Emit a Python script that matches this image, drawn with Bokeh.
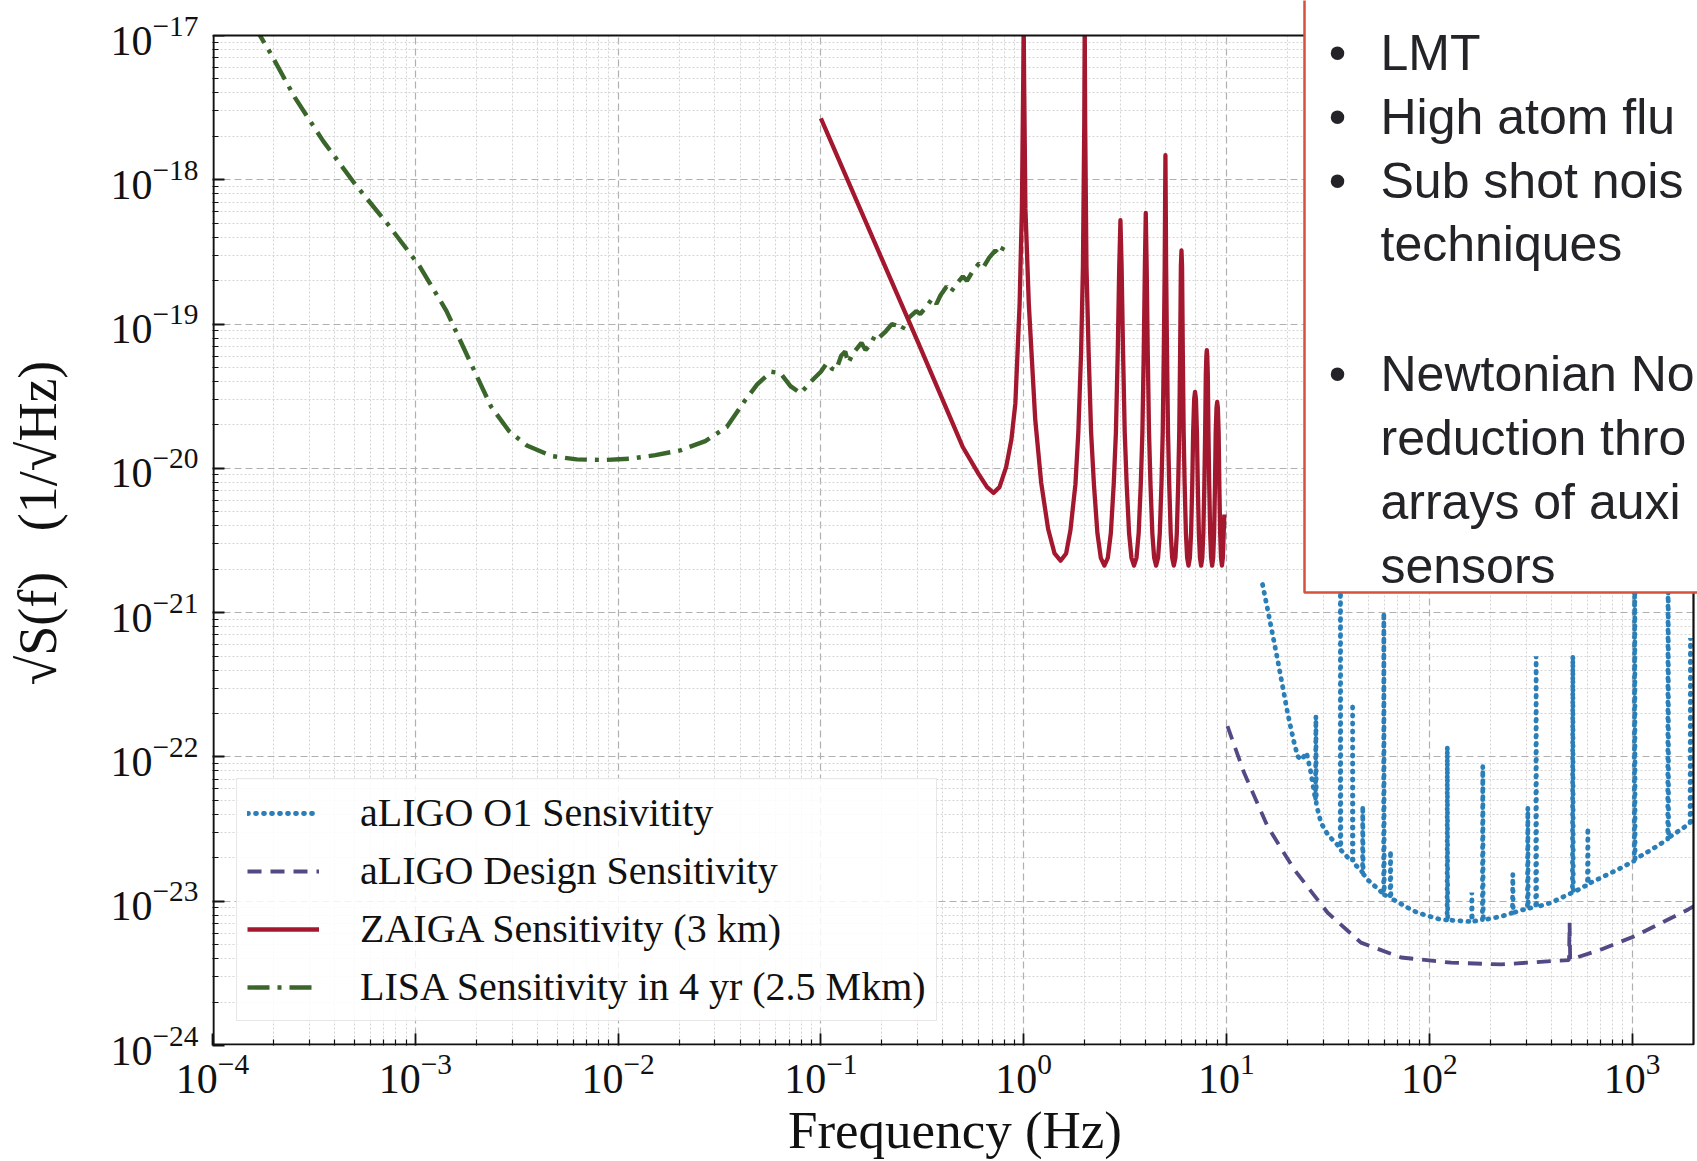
import numpy as np
from bokeh.plotting import figure
from bokeh.models import (FixedTicker, LogTickFormatter, Legend, LegendItem, Label,
                          BoxAnnotation, Range1d)
from bokeh.embed import file_html
from bokeh.resources import INLINE

# ---------------- data (log10 units) ----------------
lisa_log_f = [-3.80, -3.718, -3.595, -3.454, -3.296, -3.137, -2.979, -2.846, -2.735, -2.626,
              -2.538, -2.45, -2.327, -2.204, -2.063, -1.939, -1.816, -1.693, -1.570, -1.464,
              -1.376, -1.314, -1.245, -1.20, -1.15, -1.10, -1.05, -1.00, -0.97, -0.945,
              -0.925, -0.90, -0.88, -0.865, -0.84, -0.80, -0.78, -0.755, -0.73, -0.71,
              -0.68, -0.65, -0.625, -0.60, -0.57, -0.53, -0.51, -0.48, -0.45, -0.43,
              -0.41, -0.38, -0.36, -0.33, -0.30, -0.28, -0.25, -0.22, -0.20, -0.17,
              -0.14, -0.12, -0.09]
lisa_log_h = [-16.92, -17.113, -17.427, -17.732, -18.032, -18.305, -18.598, -18.91, -19.245, -19.573,
              -19.741, -19.841, -19.915, -19.938, -19.942, -19.933, -19.908, -19.875, -19.811, -19.714,
              -19.533, -19.418, -19.33, -19.34, -19.43, -19.48, -19.40, -19.33, -19.27, -19.31,
              -19.32, -19.22, -19.19, -19.27, -19.20, -19.13, -19.18, -19.14, -19.07, -19.09,
              -19.05, -19.00, -19.01, -19.04, -18.96, -18.91, -18.93, -18.88, -18.82, -18.86,
              -18.80, -18.74, -18.78, -18.72, -18.67, -18.70, -18.63, -18.58, -18.61, -18.54,
              -18.49, -18.52, -18.44]

zaiga_f_hz = [0.10, 0.20, 0.30, 0.40, 0.50, 0.60, 0.66, 0.71, 0.76, 0.82, 0.87, 0.91, 0.955, 0.98, 0.995,
              1.00, 1.005, 1.02, 1.06, 1.14, 1.22, 1.32, 1.42, 1.52, 1.62, 1.70, 1.80, 1.86, 1.92, 1.96, 1.99,
              2.00, 2.01, 2.04, 2.09, 2.15, 2.22, 2.31, 2.40, 2.50, 2.60, 2.69, 2.78, 2.85, 2.91, 2.96,
              3.00, 3.04, 3.09, 3.15, 3.22, 3.31, 3.40, 3.50, 3.60, 3.69, 3.78, 3.85, 3.91, 3.96,
              4.00, 4.04, 4.09, 4.15, 4.22, 4.31, 4.40, 4.50, 4.60, 4.69, 4.78, 4.85, 4.91, 4.96, 4.985,
              5.00, 5.015, 5.04, 5.09, 5.15, 5.22, 5.31, 5.40, 5.50, 5.60, 5.69, 5.78, 5.85, 5.91, 5.96,
              6.00, 6.04, 6.09, 6.15, 6.22, 6.31, 6.40, 6.50, 6.60, 6.69, 6.78, 6.85, 6.93,
              7.00, 7.07, 7.15, 7.22, 7.31, 7.40, 7.50, 7.60, 7.69, 7.78, 7.85, 7.91, 7.96,
              8.00, 8.04, 8.09, 8.15, 8.22, 8.31, 8.40, 8.50, 8.60, 8.69, 8.78, 8.85, 8.93,
              9.00, 9.07, 9.15, 9.22, 9.31, 9.40, 9.50, 9.60, 9.69, 9.76]
zaiga_log_h = [-17.575, -18.55, -19.12, -19.53, -19.85, -20.04, -20.13, -20.17, -20.13, -19.99, -19.80, -19.55, -18.86, -18.20, -17.30,
               -16.9, -17.30, -18.20, -18.86, -19.66, -20.10, -20.42, -20.59, -20.64, -20.59, -20.43, -20.11, -19.75, -19.19, -18.60, -17.60,
               -16.9, -17.60, -18.60, -19.19, -19.75, -20.11, -20.45, -20.62, -20.674, -20.62, -20.45, -20.11, -19.75, -19.19, -18.60,
               -18.28, -18.60, -19.19, -19.75, -20.11, -20.45, -20.62, -20.674, -20.62, -20.45, -20.11, -19.75, -19.19, -18.60,
               -18.23, -18.60, -19.19, -19.75, -20.11, -20.45, -20.62, -20.674, -20.62, -20.45, -20.11, -19.75, -19.19, -18.60, -18.10,
               -17.83, -18.10, -18.60, -19.19, -19.75, -20.11, -20.45, -20.62, -20.674, -20.62, -20.45, -20.11, -19.75, -19.19, -18.60,
               -18.49, -18.60, -19.19, -19.75, -20.11, -20.45, -20.62, -20.674, -20.62, -20.45, -20.11, -19.75, -19.52,
               -19.47, -19.52, -19.75, -20.11, -20.45, -20.62, -20.674, -20.62, -20.45, -20.11, -19.75, -19.35, -19.22,
               -19.18, -19.22, -19.35, -19.75, -20.11, -20.45, -20.62, -20.674, -20.62, -20.45, -20.11, -19.75, -19.58,
               -19.54, -19.58, -19.75, -20.11, -20.45, -20.62, -20.674, -20.62, -20.45, -20.32]

design_log_f = [1.005, 1.087, 1.202, 1.334, 1.499, 1.663, 1.861, 2.108, 2.355, 2.601,
                2.689, 2.692, 2.695, 2.848, 3.013, 3.277, 3.31]
design_log_h = [-21.787, -22.11, -22.48, -22.78, -23.08, -23.287, -23.39, -23.426, -23.438, -23.415,
                -23.408, -23.149, -23.405, -23.334, -23.242, -23.057, -23.03]

o1_log_f = [1.178, 1.203, 1.252, 1.301, 1.330, 1.351, 1.370, 1.395, 1.415, 1.439,
            1.441, 1.443, 1.466, 1.50, 1.561, 1.562, 1.564, 1.60, 1.621, 1.622,
            1.624, 1.671, 1.672, 1.674, 1.696, 1.775, 1.776, 1.778, 1.795, 1.807,
            1.809, 1.811, 1.90, 1.943, 2.058, 2.088, 2.089, 2.091, 2.19, 2.209,
            2.21, 2.212, 2.262, 2.264, 2.266, 2.355, 2.410, 2.412, 2.414, 2.484,
            2.486, 2.488, 2.525, 2.527, 2.529, 2.601, 2.706, 2.708, 2.710, 2.765,
            2.780, 2.782, 2.784, 2.931, 3.011, 3.013, 3.015, 3.095, 3.176, 3.178,
            3.180, 3.286, 3.288, 3.290, 3.31]
o1_log_h = [-20.805, -20.978, -21.325, -21.692, -21.88, -21.995, -22.02, -21.97, -22.10, -22.30,
            -21.718, -22.33, -22.456, -22.54, -22.63, -20.3, -22.645, -22.70, -22.72, -21.63,
            -22.73, -22.80, -22.34, -22.81, -22.851, -22.95, -21.0, -22.955, -22.967, -22.975,
            -22.65, -22.98, -23.05, -23.08, -23.128, -23.13, -21.93, -23.13, -23.14, -23.14,
            -22.94, -23.14, -23.13, -22.064, -23.13, -23.105, -23.08, -22.814, -23.08, -23.05,
            -22.352, -23.05, -23.04, -21.302, -23.04, -23.01, -22.94, -21.302, -22.94, -22.897,
            -22.89, -22.49, -22.88, -22.78, -22.72, -20.3, -22.71, -22.643, -22.57, -20.3,
            -22.56, -22.46, -21.175, -22.455, -22.44]

legend_labels = ["aLIGO O1 Sensivitity", "aLIGO Design Sensitivity",
                 "ZAIGA Sensitivity (3 km)", "LISA Sensitivity in 4 yr (2.5 Mkm)"]
x_tick_exponents = [-4, -3, -2, -1, 0, 1, 2, 3]
y_tick_exponents = [-24, -23, -22, -21, -20, -19, -18, -17]
x_limits_log = (-4.0, 3.303)
y_limits_log = (-24.0, -17.0)
note_lines = ["LMT", "High atom flu", "Sub shot nois", "techniques", "",
              "Newtonian No", "reduction thro", "arrays of auxi", "sensors"]
note_bullets = [True, True, True, False, False, True, False, False, False]

assert len(lisa_log_f) == len(lisa_log_h)
assert len(zaiga_f_hz) == len(zaiga_log_h)
assert len(design_log_f) == len(design_log_h)
assert len(o1_log_f) == len(o1_log_h)

# ---------------- layout ----------------
# The plotting frame is stretched to the top/right edge of the canvas so that the
# overlaid note box (which in the reference spills over the axes frame) is not clipped.
W, H = 1697, 1161
LEFT, BOTTOM = 212, 116
AX_TOP, AX_RIGHT = 35, 1693          # pixel position of the axes box top / right edge
X_DEC = (AX_RIGHT - LEFT) / (x_limits_log[1] - x_limits_log[0])
Y_DEC = (H - BOTTOM - AX_TOP) / (y_limits_log[1] - y_limits_log[0])
x_end = 10 ** (x_limits_log[0] + (W - LEFT) / X_DEC)
y_end = 10 ** (y_limits_log[0] + (H - BOTTOM) / Y_DEC)


def xpx(X):
    return 10 ** (x_limits_log[0] + (X - LEFT) / X_DEC)


def ypx(Y):
    return 10 ** (y_limits_log[1] - (Y - AX_TOP) / Y_DEC)


p = figure(width=W, height=H, x_axis_type="log", y_axis_type="log",
           x_range=Range1d(10 ** x_limits_log[0], x_end),
           y_range=Range1d(10 ** y_limits_log[0], y_end),
           output_backend="svg", toolbar_location=None,
           min_border_left=LEFT, min_border_right=0,
           min_border_top=0, min_border_bottom=BOTTOM)
p.background_fill_color = "white"
p.border_fill_color = "white"
p.outline_line_color = None

xt = FixedTicker(ticks=[10.0 ** e for e in x_tick_exponents],
                 minor_ticks=[k * 10.0 ** e for e in range(-4, 4) for k in range(2, 10)
                              if k * 10.0 ** e < 1990])
yt = FixedTicker(ticks=[10.0 ** e for e in y_tick_exponents],
                 minor_ticks=[k * 10.0 ** e for e in range(-24, -17) for k in range(2, 10)])
p.xaxis.ticker = xt
p.xgrid.ticker = xt
p.yaxis.ticker = yt
p.ygrid.ticker = yt
p.xaxis.formatter = LogTickFormatter()
p.yaxis.formatter = LogTickFormatter()

for ax in (p.xaxis, p.yaxis):
    ax.major_tick_in = 12
    ax.major_tick_out = 0
    ax.minor_tick_in = 6
    ax.minor_tick_out = 0
    ax.axis_line_color = None
    ax.major_tick_line_width = 1.8
    ax.minor_tick_line_width = 1.2
    ax.major_tick_line_color = "#111111"
    ax.minor_tick_line_color = "#111111"
    ax.major_label_text_font = "Liberation Serif"
    ax.major_label_text_font_size = "42px"
    ax.major_label_text_color = "#111111"
    ax.axis_label_text_font = "Liberation Serif"
    ax.axis_label_text_font_style = "normal"
    ax.axis_label_text_color = "#111111"

p.xaxis.major_label_standoff = 9
p.yaxis.major_label_standoff = 14
p.xaxis.axis_label = "Frequency (Hz)"
p.xaxis.axis_label_text_font_size = "53px"
p.xaxis.axis_label_text_line_height = 0.75
p.xaxis.axis_label_standoff = 5
p.yaxis.axis_label = "\u221aS(f)\u00a0\u00a0\u00a0(1/\u221aHz)"
p.yaxis.axis_label_text_font_size = "54px"
p.yaxis.axis_label_standoff = 40

for g in (p.xgrid, p.ygrid):
    g.grid_line_color = "#b0b0b0"
    g.grid_line_dash = "7 4"
    g.grid_line_width = 1.2
    g.minor_grid_line_color = "#d4d4d4"
    g.minor_grid_line_dash = "2 2"
    g.minor_grid_line_width = 1.0

# ---------------- curves ----------------
r_lisa = p.line(10 ** np.array(lisa_log_f), 10 ** np.array(lisa_log_h),
                line_color="#3a652b", line_width=4.4, line_dash="22 8 4 8")
r_zaiga = p.line(np.array(zaiga_f_hz), 10 ** np.array(zaiga_log_h),
                 line_color="#a3182f", line_width=4.3, line_join="round")
r_design = p.line(10 ** np.array(design_log_f), 10 ** np.array(design_log_h),
                  line_color="#514a85", line_width=3.8, line_dash="14 9")
r_o1 = p.line(10 ** np.array(o1_log_f), 10 ** np.array(o1_log_h),
              line_color="#2b7fb8", line_width=4.8, line_dash="1 7", line_cap="round")

# white margins outside the axes box (above 1e-17 and right of the right spine)
p.add_layout(BoxAnnotation(bottom=10 ** y_limits_log[1], top=1e-10, left=1e-8, right=1e8,
                           fill_color="white", fill_alpha=1.0, line_color=None))
p.add_layout(BoxAnnotation(left=10 ** x_limits_log[1], right=1e8, bottom=1e-30, top=1e-10,
                           fill_color="white", fill_alpha=1.0, line_color=None))
# axes box (spines)
p.add_layout(BoxAnnotation(left=xpx(LEFT + 1), right=10 ** x_limits_log[1],
                           bottom=ypx(H - BOTTOM - 1), top=10 ** y_limits_log[1],
                           fill_alpha=0.0, line_color="#111111", line_alpha=1.0, line_width=2.2))

legend = Legend(items=[LegendItem(label=legend_labels[0], renderers=[r_o1]),
                       LegendItem(label=legend_labels[1], renderers=[r_design]),
                       LegendItem(label=legend_labels[2], renderers=[r_zaiga]),
                       LegendItem(label=legend_labels[3], renderers=[r_lisa])],
                location=(24, 24))
legend.label_text_font = "Liberation Serif"
legend.label_text_font_size = "40px"
legend.label_text_color = "#111111"
legend.glyph_width = 72
legend.glyph_height = 44
legend.label_height = 44
legend.label_standoff = 41
legend.spacing = 11
legend.padding = 10
legend.margin = 0
legend.border_line_color = "#cfcfcf"
legend.border_line_width = 1.5
legend.background_fill_color = "white"
legend.background_fill_alpha = 0.85
p.add_layout(legend)

# ---------------- overlaid note box ----------------
p.add_layout(BoxAnnotation(left=xpx(1304), right=xpx(2200), bottom=ypx(592), top=ypx(-300),
                           fill_color="white", fill_alpha=1.0, line_color="#d5523b",
                           line_alpha=1.0, line_width=2.5, level="overlay"))

baselines = [52, 116.5, 180.5, 243.5, 308, 373, 437, 501, 565]
for txt, bullet, base in zip(note_lines, note_bullets, baselines):
    if txt:
        p.add_layout(Label(x=xpx(1380), y=ypx(base), text=txt, text_font="Liberation Sans",
                           text_font_size="50px", text_color="#232328", text_align="left",
                           text_baseline="alphabetic", level="overlay"))
    if bullet:
        p.add_layout(Label(x=xpx(1337), y=ypx(base), text="\u2022", text_font="Liberation Sans",
                           text_font_size="50px", text_color="#232328", text_align="center",
                           text_baseline="alphabetic", level="overlay"))

open("out.html", "w").write(file_html(p, INLINE))
